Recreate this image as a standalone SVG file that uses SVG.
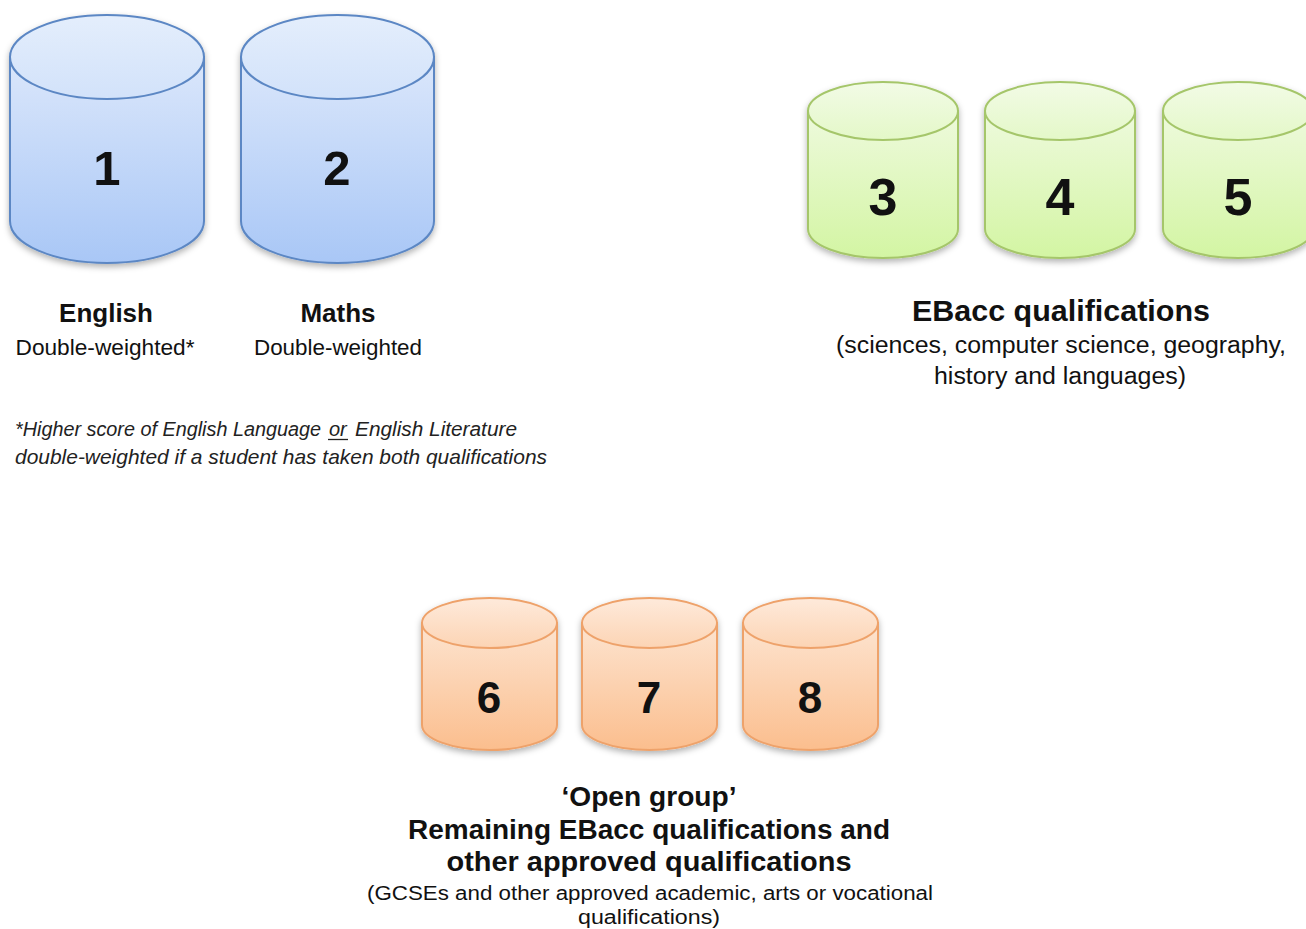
<svg xmlns="http://www.w3.org/2000/svg" width="1306" height="929" viewBox="0 0 1306 929">
<defs>
  <linearGradient id="gBlueBody" x1="0" y1="0" x2="0" y2="1">
    <stop offset="0" stop-color="#dbe7fb"/>
    <stop offset="1" stop-color="#a9c7f6"/>
  </linearGradient>
  <linearGradient id="gBlueTop" x1="0" y1="0" x2="0" y2="1">
    <stop offset="0" stop-color="#e4eefc"/>
    <stop offset="1" stop-color="#d2e2fa"/>
  </linearGradient>
  <linearGradient id="gGreenBody" x1="0" y1="0" x2="0" y2="1">
    <stop offset="0" stop-color="#eefadd"/>
    <stop offset="1" stop-color="#d3f5a3"/>
  </linearGradient>
  <linearGradient id="gGreenTop" x1="0" y1="0" x2="0" y2="1">
    <stop offset="0" stop-color="#f2fbe6"/>
    <stop offset="1" stop-color="#e4f8c8"/>
  </linearGradient>
  <linearGradient id="gOrangeBody" x1="0" y1="0" x2="0" y2="1">
    <stop offset="0" stop-color="#fde4d0"/>
    <stop offset="1" stop-color="#fbbe8e"/>
  </linearGradient>
  <linearGradient id="gOrangeTop" x1="0" y1="0" x2="0" y2="1">
    <stop offset="0" stop-color="#feeadb"/>
    <stop offset="1" stop-color="#fcd4b4"/>
  </linearGradient>
  <filter id="shadow" x="-10%" y="-10%" width="120%" height="125%">
    <feDropShadow dx="0" dy="3" stdDeviation="3" flood-color="#000" flood-opacity="0.3"/>
  </filter>
</defs>
<style>
  .blue { stroke: #5b87c4; stroke-width: 2; }
  .green { stroke: #a5c66a; stroke-width: 2; }
  .orange { stroke: #eea26b; stroke-width: 2; }
  .num { font-family: "Liberation Sans", Arial, sans-serif; font-weight: bold; fill: #111; text-anchor: middle; }
  .t { font-family: "Liberation Sans", Arial, sans-serif; fill: #111; text-anchor: middle; }
  .b { font-weight: bold; }
  .it { font-family: "Liberation Sans", Arial, sans-serif; font-style: italic; fill: #222; }
</style>
<rect width="1306" height="929" fill="#ffffff"/>

<g id="connectors"></g>

<!-- Blue cylinders -->
<g id="cyl1" filter="url(#shadow)">
  <path class="blue" fill="url(#gBlueBody)" d="M10,57 V221 A97,42 0 0 0 204,221 V57 Z"/>
  <ellipse class="blue" fill="url(#gBlueTop)" cx="107" cy="57" rx="97" ry="42"/>
</g>
<text class="num" x="107" y="185" font-size="49">1</text>
<g id="cyl2" filter="url(#shadow)">
  <path class="blue" fill="url(#gBlueBody)" d="M241,57 V221 A96.5,42 0 0 0 434,221 V57 Z"/>
  <ellipse class="blue" fill="url(#gBlueTop)" cx="337.5" cy="57" rx="96.5" ry="42"/>
</g>
<text class="num" x="337" y="185" font-size="49">2</text>

<g id="label-english">
  <text class="t b" x="106" y="322" font-size="26">English</text>
  <text class="t" x="105" y="355" font-size="22" textLength="179" lengthAdjust="spacingAndGlyphs">Double-weighted*</text>
</g>
<g id="label-maths">
  <text class="t b" x="338" y="322" font-size="26">Maths</text>
  <text class="t" x="338" y="355" font-size="22" textLength="168" lengthAdjust="spacingAndGlyphs">Double-weighted</text>
</g>
<g id="footnote">
  <text class="it" x="15" y="436" font-size="19.6" textLength="306" lengthAdjust="spacingAndGlyphs">*Higher score of English Language</text>
  <text class="it" x="329" y="436" font-size="20">or</text>
  <line x1="328" y1="439.5" x2="348" y2="439.5" stroke="#222" stroke-width="1.3"/>
  <text class="it" x="355" y="436" font-size="20" textLength="162" lengthAdjust="spacingAndGlyphs">English Literature</text>
  <text class="it" x="15" y="464" font-size="21" textLength="532" lengthAdjust="spacingAndGlyphs">double-weighted if a student has taken both qualifications</text>
</g>

<!-- Green cylinders -->
<g id="cyl3" filter="url(#shadow)">
  <path class="green" fill="url(#gGreenBody)" d="M808,111 V229 A75,29 0 0 0 958,229 V111 Z"/>
  <ellipse class="green" fill="url(#gGreenTop)" cx="883" cy="111" rx="75" ry="29"/>
</g>
<text class="num" x="883" y="215" font-size="52">3</text>
<g id="cyl4" filter="url(#shadow)">
  <path class="green" fill="url(#gGreenBody)" d="M985,111 V229 A75,29 0 0 0 1135,229 V111 Z"/>
  <ellipse class="green" fill="url(#gGreenTop)" cx="1060" cy="111" rx="75" ry="29"/>
</g>
<text class="num" x="1060" y="215" font-size="52">4</text>
<g id="cyl5" filter="url(#shadow)">
  <path class="green" fill="url(#gGreenBody)" d="M1163,111 V229 A75,29 0 0 0 1313,229 V111 Z"/>
  <ellipse class="green" fill="url(#gGreenTop)" cx="1238" cy="111" rx="75" ry="29"/>
</g>
<text class="num" x="1238" y="215" font-size="52">5</text>

<g id="label-ebacc">
  <text class="t b" x="1061" y="321" font-size="30" textLength="298" lengthAdjust="spacingAndGlyphs">EBacc qualifications</text>
  <text class="t" x="1061" y="353" font-size="23" textLength="450" lengthAdjust="spacingAndGlyphs">(sciences, computer science, geography,</text>
  <text class="t" x="1060" y="384" font-size="23" textLength="252" lengthAdjust="spacingAndGlyphs">history and languages)</text>
</g>

<!-- Orange cylinders -->
<g id="cyl6" filter="url(#shadow)">
  <path class="orange" fill="url(#gOrangeBody)" d="M422,623 V725 A67.5,25 0 0 0 557,725 V623 Z"/>
  <ellipse class="orange" fill="url(#gOrangeTop)" cx="489.5" cy="623" rx="67.5" ry="25"/>
</g>
<text class="num" x="489" y="713" font-size="44">6</text>
<g id="cyl7" filter="url(#shadow)">
  <path class="orange" fill="url(#gOrangeBody)" d="M582,623 V725 A67.5,25 0 0 0 717,725 V623 Z"/>
  <ellipse class="orange" fill="url(#gOrangeTop)" cx="649.5" cy="623" rx="67.5" ry="25"/>
</g>
<text class="num" x="649" y="713" font-size="44">7</text>
<g id="cyl8" filter="url(#shadow)">
  <path class="orange" fill="url(#gOrangeBody)" d="M743,623 V725 A67.5,25 0 0 0 878,725 V623 Z"/>
  <ellipse class="orange" fill="url(#gOrangeTop)" cx="810.5" cy="623" rx="67.5" ry="25"/>
</g>
<text class="num" x="810" y="713" font-size="44">8</text>

<g id="label-open">
  <text class="t b" x="649" y="806" font-size="27" textLength="175" lengthAdjust="spacingAndGlyphs">‘Open group’</text>
  <text class="t b" x="649" y="839" font-size="27" textLength="482" lengthAdjust="spacingAndGlyphs">Remaining EBacc qualifications and</text>
  <text class="t b" x="649" y="871" font-size="27" textLength="405" lengthAdjust="spacingAndGlyphs">other approved qualifications</text>
  <text class="t" x="650" y="900" font-size="20" textLength="566" lengthAdjust="spacingAndGlyphs">(GCSEs and other approved academic, arts or vocational</text>
  <text class="t" x="649" y="924" font-size="20" textLength="142" lengthAdjust="spacingAndGlyphs">qualifications)</text>
</g>
</svg>
